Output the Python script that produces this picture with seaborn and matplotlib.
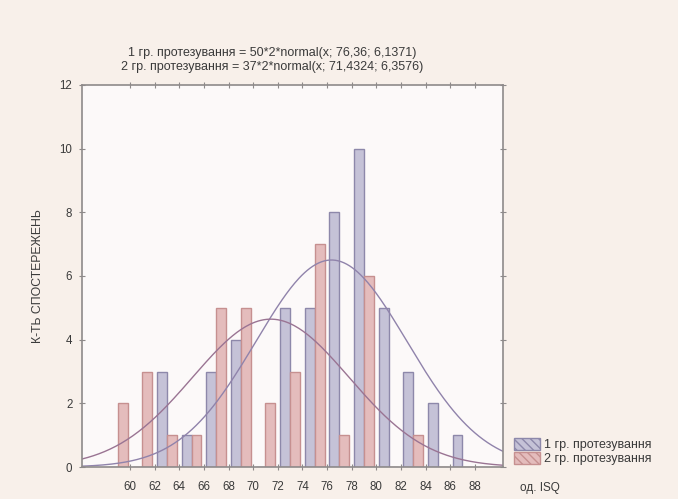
import numpy as np
import pandas as pd
import matplotlib
matplotlib.use('Agg')
import matplotlib.pyplot as plt
import seaborn as sns

# histogram data (bin centres, width 2)
bins = [59, 61, 63, 65, 67, 69, 71, 73, 75, 77, 79, 81, 83, 85, 87]
group1 = [0, 0, 3, 1, 3, 4, 0, 5, 5, 8, 10, 5, 3, 2, 1]
group2 = [2, 3, 1, 1, 5, 5, 2, 3, 7, 1, 6, 0, 1, 0, 0]
labels = ['1 гр. протезування', '2 гр. протезування']

# fitted normal curves: n * 2 * normal(x; mean, sd)
fit_n = [50, 37]
fit_mean = [76.36, 71.4324]
fit_sd = [6.1371, 6.3576]

x_ticks = list(range(60, 90, 2))
y_ticks = list(range(0, 14, 2))

df = pd.DataFrame({
    'x': bins * 2,
    'count': group1 + group2,
    'group': [labels[0]] * len(bins) + [labels[1]] * len(bins),
})

sns.set_style('ticks')
plt.rcParams['font.family'] = ['Liberation Sans', 'DejaVu Sans']

bar_fill = ['#c2bedb', '#ebb5b5']
bar_edge = ['#8d88aa', '#c69090']
curve_col = ['#9083ab', '#9a7493']
txt = '#3a3a3a'
fs = 9

fig = plt.figure(figsize=(6.78, 4.99), dpi=100)
fig.patch.set_facecolor('#f8f0ea')
ax = fig.add_axes([0.121, 0.064, 0.621, 0.766])
ax.set_facecolor('#fcf9f9')

sns.barplot(data=df, x='x', y='count', hue='group', hue_order=labels,
            palette=bar_fill, native_scale=True, width=0.8, errorbar=None,
            edgecolor='none', ax=ax)

# colour the edges per group
n = len(bins)
for i, p in enumerate(ax.patches[:2 * n]):
    p.set_edgecolor(bar_edge[i // n])
    p.set_linewidth(1.0)

xs = np.linspace(56.1, 90.3, 300)
for k in range(2):
    ys = fit_n[k] * 2 * np.exp(-(xs - fit_mean[k]) ** 2 / (2 * fit_sd[k] ** 2)) / (fit_sd[k] * np.sqrt(2 * np.pi))
    sns.lineplot(x=xs, y=ys, color=curve_col[k], linewidth=1.0, ax=ax, legend=False)

ax.set_xlim(56.1, 90.3)
ax.set_ylim(0, 12)
ax.set_xticks(x_ticks)
ax.set_xticklabels([str(t) for t in x_ticks])
ax.set_yticks(y_ticks)
ax.tick_params(axis='both', which='both', direction='inout', length=4, width=0.8,
               colors='#8e8a8a', labelcolor=txt, labelsize=8.3,
               top=True, right=True)
ax.tick_params(axis='x', pad=8)
ax.tick_params(axis='y', pad=5)
for s in ax.spines.values():
    s.set_color('#8e8a8a')
    s.set_linewidth(1.2)

ax.set_xlabel('од. ISQ', fontsize=8.5, color=txt)
ax.xaxis.set_label_coords(1.088, -0.04)
ax.set_ylabel('К-ТЬ СПОСТЕРЕЖЕНЬ', fontsize=8.8, color=txt)
ax.yaxis.set_label_coords(-0.09, 0.5)

fig.text(272 / 678, 1 - 53 / 499,
         '1 гр. протезування = 50*2*normal(x; 76,36; 6,1371)',
         ha='center', va='center', fontsize=fs, color=txt)
fig.text(272 / 678, 1 - 67 / 499,
         '2 гр. протезування = 37*2*normal(x; 71,4324; 6,3576)',
         ha='center', va='center', fontsize=fs, color=txt)

handles, hl = ax.get_legend_handles_labels()
if ax.get_legend():
    ax.get_legend().remove()
leg = fig.legend(handles[:2], hl[:2], loc='lower left',
                 bbox_to_anchor=(505 / 678, 1 - 474 / 499),
                 frameon=False, fontsize=9, handlelength=2.1, handleheight=1.1,
                 handletextpad=0.3, labelspacing=0.05, borderpad=0.2)
for k, h in enumerate(leg.get_patches()):
    h.set_hatch('\\\\\\\\')
    h.set_edgecolor(bar_edge[k])
for t in leg.get_texts():
    t.set_color(txt)

fig.savefig('out.png', dpi=100, facecolor=fig.get_facecolor())
